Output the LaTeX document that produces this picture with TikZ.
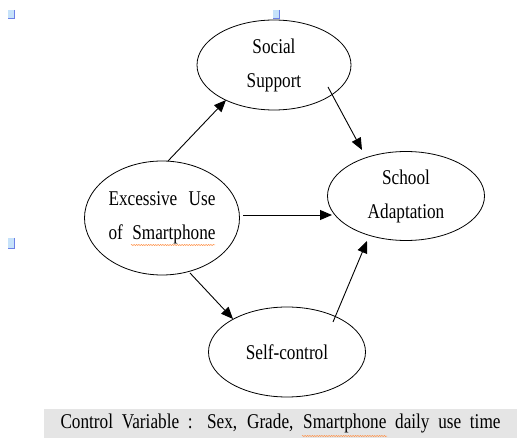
\documentclass[tikz,border=0pt]{standalone}
\usepackage{fontspec}
\setmainfont{Liberation Serif}[FakeStretch=0.82]
\usepackage{xcolor}
\usetikzlibrary{shapes.geometric, arrows.meta, calc, decorations.pathmorphing}

\definecolor{anchorfill}{HTML}{C6E2FA}
\definecolor{anchoredge}{HTML}{6C80E6}

\begin{document}
\begin{tikzpicture}[
                        x = 1pt, y = -1pt,
                        font       = \fontsize{21}{25}\selectfont,
                        var/.style = {draw, ellipse, line width=0.8pt, inner sep=0pt, align=center},
                        ar/.style  = {-{Triangle[length=12pt, width=10pt]}, line width=0.9pt},
                        spell/.style = {decorate, decoration={snake, amplitude=0.6pt, segment length=2.4pt},
                                    draw=orange!80!red!70, line width=0.5pt},
                        anchorbox/.style = {fill=anchorfill, draw=none}
                  ]
                  \useasboundingbox (0,0) rectangle (517,438);

                  \node[var, minimum width=154pt, minimum height=90pt]  (soc)   at (274,65)  {Social\\[9pt]Support};
                  \node[var, minimum width=155pt, minimum height=114pt] (exc)   at (162,218)
                        {\makebox[107pt][s]{Excessive Use}\\[9pt]\makebox[107pt][s]{of Smartphone}};
                  \node[var, minimum width=157pt, minimum height=89pt]  (sch)   at (406,196) {School\\[9pt]Adaptation};
                  \node[var, minimum width=157pt, minimum height=90pt]  (selfc) at (287,352) {Self-control};

                  % control variables bar
                  \node[fill=black!10, inner sep=0pt, minimum width=473pt, minimum height=29pt] (ctrl) at (280.5,423.5)
                        {\makebox[440pt][s]{Control Variable : Sex, Grade, Smartphone daily use time}};

                  \draw[ar] ($(exc)+(6,-57)$)   -- ($(soc)+(-48,35)$);
                  \draw[ar] ($(soc)+(54,22)$)   -- ($(sch)+(-44,-46)$);
                  \draw[ar] ($(exc)+(81,-3)$)   -- ($(sch)+(-74,19)$);
                  \draw[ar] ($(exc)+(28,55)$)   -- ($(selfc)+(-54,-33)$);
                  \draw[ar] ($(selfc)+(46,-30)$) -- ($(sch)+(-39,45)$);

                  % spelling marks
                  \draw[spell] (131,245) -- (215,245);
                  \draw[spell] (302,436) -- (387,436);

                  % anchor marks
                  \foreach \x/\y/\h in {8/10/9, 273/10/9, 8/238/11} {
                        \fill[anchorbox] (\x,\y) rectangle ++(7,\h);
                        \draw[anchoredge, line width=1.2pt] (\x+6.4,\y) -- (\x+6.4,\y+\h-0.6) -- (\x,\y+\h-0.6);
                  }
            \end{tikzpicture}
\end{document}
